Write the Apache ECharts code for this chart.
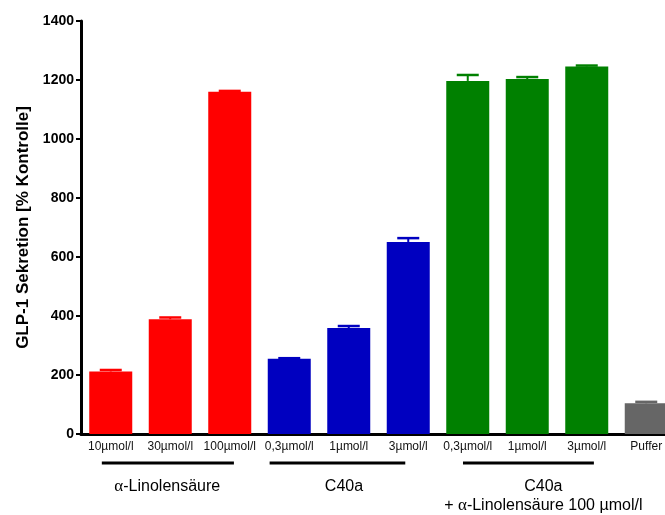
<!DOCTYPE html>
<html>
<head>
<meta charset="utf-8">
<script src="https://cdn.jsdelivr.net/npm/echarts@6/dist/echarts.min.js"></script>
<style>
  html, body { margin: 0; padding: 0; background: #fff; }
  #chart { width: 665px; height: 515px; }
</style>
</head>
<body>
<div id="chart"></div>
<script>
// Treatments along the x axis
const categories = ['10µmol/l', '30µmol/l', '100µmol/l', '0,3µmol/l', '1µmol/l', '3µmol/l', '0,3µmol/l', '1µmol/l', '3µmol/l', 'Puffer'];
// Mean GLP-1 secretion, % of control
const values = [212, 389, 1160, 255, 359, 651, 1197, 1203, 1246, 104];
// Upper error (SEM)
const errors = [5, 6, 3, 2, 7, 13, 20, 7, 3, 5];
// Bar colour per treatment group
const barColors = ['#ff0000', '#ff0000', '#ff0000', '#0000c0', '#0000c0', '#0000c0', '#008000', '#008000', '#008000', '#666666'];
// Y axis
const yTicks = [0, 200, 400, 600, 800, 1000, 1200, 1400];
// Group annotations: first/last category index and line overhang (in category units)
const groupFrom = [0, 3, 6];
const groupTo = [2, 5, 8];
const groupStartOff = [-0.15, -0.33, -0.08];
const groupEndOff = [0.07, -0.05, 0.12];
const groupLabelShift = [-0.05, -0.08, 0.27];
const groupLabels = [
  ['{a|α}-Linolensäure'],
  ['C40a'],
  ['C40a', '+ {a|α}-Linolensäure 100 µmol/l']
];

const FONT = 'Liberation Sans, Arial, Helvetica, sans-serif';
const chart = echarts.init(document.getElementById('chart'), null, { renderer: 'canvas' });

chart.setOption({
  animation: false,
  backgroundColor: '#ffffff',
  // the plot runs past the right edge of the page, so the last bar is cut off
  grid: { left: 81, right: -11, top: 21, bottom: 81, containLabel: false, outerBoundsMode: 'none' },
  xAxis: {
    type: 'category',
    data: categories,
    axisLine: { lineStyle: { color: '#000', width: 3 } },
    axisTick: { alignWithLabel: true, length: 5, lineStyle: { color: '#000', width: 2 } },
    axisLabel: { color: '#111', fontFamily: FONT, fontSize: 12, margin: 7, interval: 0 },
    splitLine: { show: false }
  },
  yAxis: {
    type: 'value',
    min: yTicks[0],
    max: yTicks[yTicks.length - 1],
    interval: yTicks[1] - yTicks[0],
    name: 'GLP-1 Sekretion [% Kontrolle]',
    nameLocation: 'middle',
    nameGap: 49,
    nameTextStyle: { color: '#000', fontFamily: FONT, fontSize: 17, fontWeight: 'bold' },
    axisLine: { show: true, lineStyle: { color: '#000', width: 3 } },
    axisTick: { show: true, length: 5, lineStyle: { color: '#000', width: 2 } },
    axisLabel: {
      color: '#000', fontFamily: FONT, fontSize: 14, fontWeight: 'bold', margin: 7,
      formatter: v => String(v)
    },
    splitLine: { show: false }
  },
  series: [
    {
      type: 'bar',
      barWidth: 43,
      data: values.map((v, i) => ({ value: v, itemStyle: { color: barColors[i] } })),
      z: 2
    },
    {
      type: 'custom',
      data: values.map((v, i) => [i, v, errors[i]]),
      z: 3,
      renderItem: function (params, api) {
        const i = api.value(0);
        const v = api.value(1);
        const e = api.value(2);
        const base = api.coord([i, v]);
        const top = api.coord([i, v + e]);
        const hw = 11;
        const c = barColors[i];
        return {
          type: 'group',
          children: [
            { type: 'line', shape: { x1: base[0], y1: base[1], x2: top[0], y2: top[1] }, style: { stroke: c, lineWidth: 2 } },
            { type: 'line', shape: { x1: top[0] - hw, y1: top[1], x2: top[0] + hw, y2: top[1] }, style: { stroke: c, lineWidth: 2.5 } }
          ]
        };
      }
    }
  ]
});

// Group brackets and captions under the category labels
function drawGroups() {
  const p0 = chart.convertToPixel({ xAxisIndex: 0 }, 0);
  const p1 = chart.convertToPixel({ xAxisIndex: 0 }, 1);
  const band = p1 - p0;
  const yBase = chart.convertToPixel({ yAxisIndex: 0 }, 0);
  const elements = [];
  groupFrom.forEach((from, g) => {
    const xa = chart.convertToPixel({ xAxisIndex: 0 }, from) + groupStartOff[g] * band;
    const xb = chart.convertToPixel({ xAxisIndex: 0 }, groupTo[g]) + groupEndOff[g] * band;
    const mid = (chart.convertToPixel({ xAxisIndex: 0 }, from) + chart.convertToPixel({ xAxisIndex: 0 }, groupTo[g])) / 2 + groupLabelShift[g] * band;
    elements.push({
      type: 'line',
      shape: { x1: xa, y1: yBase + 29, x2: xb, y2: yBase + 29 },
      style: { stroke: '#000', lineWidth: 3 }
    });
    groupLabels[g].forEach((txt, k) => {
      elements.push({
        type: 'text',
        x: mid,
        y: yBase + 53 + k * 19,
        style: {
          text: txt,
          align: 'center',
          verticalAlign: 'middle',
          fill: '#000',
          font: '16px ' + FONT,
          rich: { a: { fontFamily: 'Liberation Serif, DejaVu Serif, serif', fontSize: 17, fill: '#000' } }
        }
      });
    });
  });
  chart.setOption({ graphic: elements });
}
drawGroups();
</script>
</body>
</html>
